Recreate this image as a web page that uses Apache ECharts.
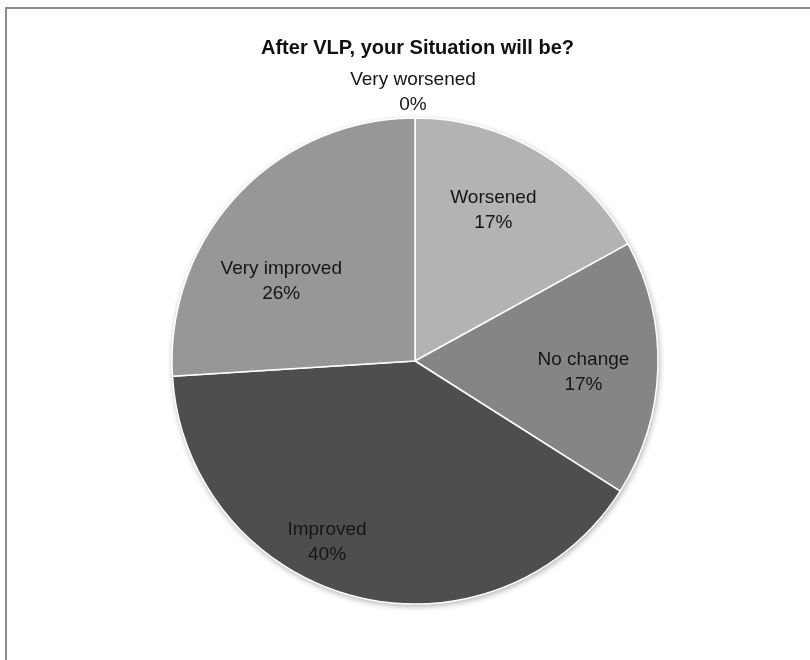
<!DOCTYPE html>
<html>
<head>
<meta charset="utf-8">
<title>After VLP, your Situation will be?</title>
<script src="https://cdn.jsdelivr.net/npm/echarts@6/dist/echarts.min.js"></script>
<style>
  html, body { margin: 0; padding: 0; background: #ffffff; }
  #chart { width: 810px; height: 660px; }
</style>
</head>
<body>
<div id="chart"></div>
<script>
// Survey answers, clockwise from 12 o'clock
const categories = ['Very worsened', 'Worsened', 'No change', 'Improved', 'Very improved'];
const shares = [0, 17, 17, 40, 26];

// Slice fills and label nudges (px) for each answer
const sliceColors = {
  'Very worsened': '#c8c8c8',
  'Worsened': '#b3b3b3',
  'No change': '#858585',
  'Improved': '#4e4e4e',
  'Very improved': '#979797'
};
const labelNudge = {
  'Very worsened': [-2, -144],
  'Worsened': [15, -44],
  'No change': [44, 7],
  'Improved': [-57, 61],
  'Very improved': [-43, 5]
};

const FONT = '"Liberation Sans", Arial, sans-serif';
const CENTER = [415, 361];
const RADIUS = 243;

const chart = echarts.init(document.getElementById('chart'), null, { renderer: 'canvas' });

const pieData = categories.map((name, i) => ({
  name: name,
  value: shares[i],
  itemStyle: { color: sliceColors[name] },
  label: { offset: labelNudge[name] }
}));

chart.setOption({
  backgroundColor: '#ffffff',
  animation: false,
  title: {
    text: 'After VLP, your Situation will be?',
    left: 256,
    top: 33,
    textStyle: { fontFamily: FONT, fontSize: 20, fontWeight: 'bold', color: '#111111' }
  },
  graphic: [{
    type: 'polyline',
    shape: { points: [[6, 660], [6, 8], [810, 8]] },
    style: { stroke: '#8a8a8a', lineWidth: 2, fill: null },
    silent: true
  }],
  series: [
    {
      // soft drop shadow under the whole disc
      type: 'pie',
      silent: true,
      center: CENTER,
      radius: RADIUS,
      z: 1,
      label: { show: false },
      labelLine: { show: false },
      itemStyle: {
        color: '#8a8a8a',
        shadowBlur: 6,
        shadowColor: 'rgba(0,0,0,0.35)',
        shadowOffsetX: 1,
        shadowOffsetY: 2
      },
      data: [{ value: 1, name: '' }]
    },
    {
      type: 'pie',
      silent: true,
      center: CENTER,
      radius: RADIUS,
      startAngle: 90,
      clockwise: true,
      z: 2,
      avoidLabelOverlap: false,
      stillShowZeroSum: true,
      itemStyle: { borderColor: '#ffffff', borderWidth: 1.5 },
      label: {
        show: true,
        position: 'inside',
        formatter: '{b}\n{d}%',
        fontFamily: FONT,
        fontSize: 19,
        lineHeight: 25,
        color: '#151515',
        align: 'center'
      },
      labelLine: { show: false },
      percentPrecision: 0,
      data: pieData
    }
  ]
});
</script>
</body>
</html>
